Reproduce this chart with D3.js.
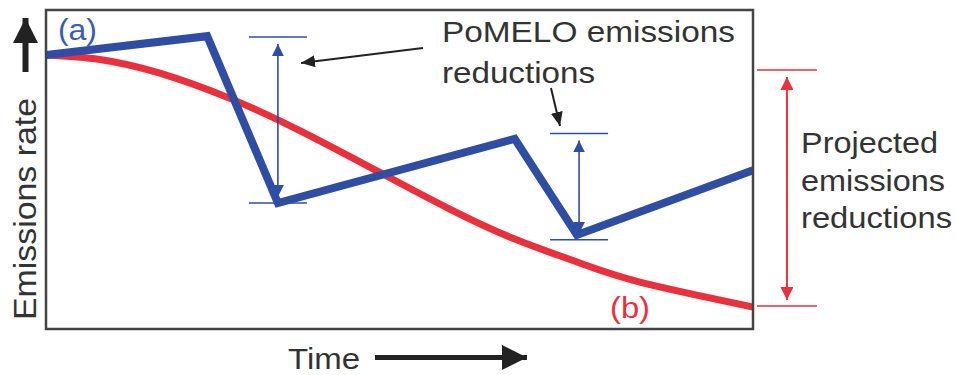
<!DOCTYPE html>
<html>
<head>
<meta charset="utf-8">
<script src="https://cdn.jsdelivr.net/npm/d3@7"></script>
<style>
  html, body { margin: 0; padding: 0; background: #fff; }
  svg { display: block; }
  text { font-family: "Liberation Sans", Arial, Helvetica, sans-serif; }
</style>
</head>
<body>
<svg id="chart" width="957" height="375"></svg>
<script>
// Time on x (0-100), emissions rate on y (0-100), both in arbitrary units
const pomeloTime     = [0, 22.8, 32.8, 66.3, 75.1, 100];
const pomeloEmission = [85.9, 91.8, 39.5, 59.6, 29.5, 49.8];

const projectedTime     = [0, 7.6, 16.1, 26.0, 35.9, 47.2, 57.1, 66.3, 75.1, 84.0, 100];
const projectedEmission = [85.9, 84.5, 80.2, 72.3, 62.2, 49.1, 37.6, 28.2, 21.0, 14.7, 6.9];

// PoMELO reductions: time, value before the cut, value after the cut
const cutTime  = [32.8, 75.4];
const cutFrom  = [91.5, 61.3];
const cutTo    = [39.5, 28.0];

// Projected reduction bracket beyond the end of the time axis
const projTime = [104.8];
const projFrom = [81.2];
const projTo   = [7.2];

const labelA = "(a)";
const labelB = "(b)";
const xTitle = "Time";
const yTitle = "Emissions rate";
const pomeloNote = ["PoMELO emissions", "reductions"];
const projNote = ["Projected", "emissions", "reductions"];

const BLUE = "#2f4ea3", BLUE_TEXT = "#3a5cb2", RED = "#e8313c", INK = "#333333", ARROW = "#222222";

const svg = d3.select("#chart");
const plot = { left: 46, top: 10, right: 753, bottom: 329 };

const x = d3.scaleLinear().domain([0, 100]).range([plot.left, plot.right]);
const y = d3.scaleLinear().domain([0, 100]).range([plot.bottom, plot.top]);

const defs = svg.append("defs");
defs.append("clipPath").attr("id", "plotClip")
  .append("rect")
  .attr("x", plot.left).attr("y", plot.top)
  .attr("width", plot.right - plot.left).attr("height", plot.bottom - plot.top);

function marker(id, color, len, wid) {
  defs.append("marker")
    .attr("id", id)
    .attr("viewBox", `0 0 ${len} ${wid}`)
    .attr("refX", len).attr("refY", wid / 2)
    .attr("markerWidth", len).attr("markerHeight", wid)
    .attr("markerUnits", "userSpaceOnUse")
    .attr("orient", "auto-start-reverse")
    .append("path")
    .attr("d", `M0,0 L${len},${wid / 2} L0,${wid} Z`)
    .attr("fill", color);
}
marker("headBlue", BLUE, 12, 12);
marker("headRed", RED, 13, 13);
marker("headBlack", ARROW, 14, 12);
marker("headBig", ARROW, 25, 25);

const lines = svg.append("g").attr("clip-path", "url(#plotClip)");

// Projected emissions (b)
const projData = projectedTime.map((t, i) => [t, projectedEmission[i]]);
lines.append("path")
  .datum(projData)
  .attr("fill", "none")
  .attr("stroke", RED)
  .attr("stroke-width", 7)
  .attr("d", d3.line().x(d => x(d[0])).y(d => y(d[1])).curve(d3.curveNatural));

// PoMELO emissions (a)
const pomData = pomeloTime.map((t, i) => [t, pomeloEmission[i]]);
lines.append("path")
  .datum(pomData)
  .attr("fill", "none")
  .attr("stroke", BLUE)
  .attr("stroke-width", 8)
  .attr("stroke-linejoin", "miter")
  .attr("d", d3.line().x(d => x(d[0])).y(d => y(d[1])));

// Frame
svg.append("rect")
  .attr("x", plot.left).attr("y", plot.top)
  .attr("width", plot.right - plot.left).attr("height", plot.bottom - plot.top)
  .attr("fill", "none").attr("stroke", "#444").attr("stroke-width", 2.5);

// Bracketed double arrows
function bracket(g, t, v0, v1, color, half, head, sw) {
  const cx = x(t);
  g.append("line").attr("x1", cx - half).attr("x2", cx + half)
    .attr("y1", y(v0)).attr("y2", y(v0)).attr("stroke", color).attr("stroke-width", 1.5);
  g.append("line").attr("x1", cx - half).attr("x2", cx + half)
    .attr("y1", y(v1)).attr("y2", y(v1)).attr("stroke", color).attr("stroke-width", 1.5);
  g.append("line")
    .attr("x1", cx).attr("x2", cx)
    .attr("y1", y(v0) + 7).attr("y2", y(v1) - 6)
    .attr("stroke", color).attr("stroke-width", sw)
    .attr("marker-start", `url(#${head})`)
    .attr("marker-end", `url(#${head})`);
}
const ann = svg.append("g");
cutTime.forEach((t, i) => bracket(ann, t, cutFrom[i], cutTo[i], BLUE, 29, "headBlue", 1.6));
projTime.forEach((t, i) => bracket(ann, t, projFrom[i], projTo[i], RED, 30, "headRed", 2));

// Pointer arrows from the PoMELO note
ann.append("line").attr("x1", 423).attr("y1", 48).attr("x2", 301).attr("y2", 63)
  .attr("stroke", ARROW).attr("stroke-width", 2).attr("marker-end", "url(#headBlack)");
ann.append("line").attr("x1", 551).attr("y1", 88).attr("x2", 560).attr("y2", 126)
  .attr("stroke", ARROW).attr("stroke-width", 2).attr("marker-end", "url(#headBlack)");

// Axis direction arrows
ann.append("line").attr("x1", 25.5).attr("y1", 72).attr("x2", 25.5).attr("y2", 18)
  .attr("stroke", ARROW).attr("stroke-width", 6).attr("marker-end", "url(#headBig)");
ann.append("line").attr("x1", 375).attr("y1", 357.5).attr("x2", 527).attr("y2", 357.5)
  .attr("stroke", ARROW).attr("stroke-width", 5).attr("marker-end", "url(#headBig)");

// Text
const txt = svg.append("g").attr("font-size", 30).attr("fill", INK);
function put(s, tx, ty, len, color) {
  return txt.append("text").attr("x", tx).attr("y", ty)
    .attr("textLength", len).attr("lengthAdjust", "spacingAndGlyphs")
    .attr("fill", color || INK).text(s);
}
put(pomeloNote[0], 442, 42, 293);
put(pomeloNote[1], 442, 83, 153);
put(projNote[0], 801, 153, 137);
put(projNote[1], 801, 191, 144);
put(projNote[2], 801, 228, 151);
put(xTitle, 288, 369, 72);
put(labelA, 58, 40, 39, BLUE_TEXT);
put(labelB, 610, 318, 40, RED);
txt.append("text")
  .attr("transform", "translate(36,320) rotate(-90)")
  .attr("textLength", 222).attr("lengthAdjust", "spacingAndGlyphs")
  .attr("font-size", 31)
  .text(yTitle);
</script>
</body>
</html>
